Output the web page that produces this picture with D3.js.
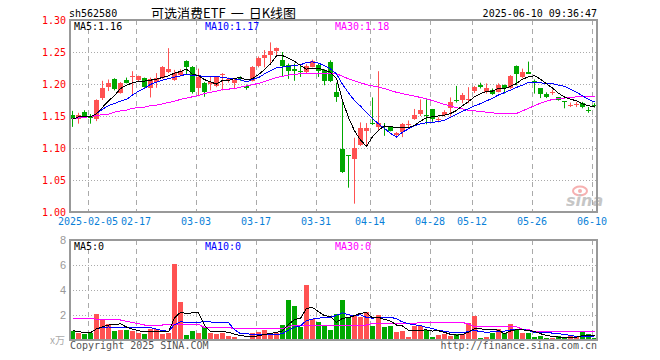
<!DOCTYPE html>
<html>
<head>
<meta charset="utf-8">
<script src="https://cdn.jsdelivr.net/npm/d3@7"></script>
<style>
  body { margin: 0; background: #fff; }
  text { font-family: "DejaVu Sans Mono", monospace; font-size: 10px; }
</style>
</head>
<body>
<svg id="chart" width="660" height="360"></svg>
<script>
// trading days shown on the chart
var dates = ['2025-01-23','2025-01-24','2025-01-27','2025-02-05','2025-02-06','2025-02-07','2025-02-10','2025-02-11','2025-02-12','2025-02-13',
  '2025-02-14','2025-02-17','2025-02-18','2025-02-19','2025-02-20','2025-02-21','2025-02-24','2025-02-25','2025-02-26','2025-02-27',
  '2025-02-28','2025-03-03','2025-03-04','2025-03-05','2025-03-06','2025-03-07','2025-03-10','2025-03-11','2025-03-12','2025-03-13',
  '2025-03-14','2025-03-17','2025-03-18','2025-03-19','2025-03-20','2025-03-21','2025-03-24','2025-03-25','2025-03-26','2025-03-27',
  '2025-03-28','2025-03-31','2025-04-01','2025-04-02','2025-04-03','2025-04-07','2025-04-08','2025-04-09','2025-04-10','2025-04-11',
  '2025-04-14','2025-04-15','2025-04-16','2025-04-17','2025-04-18','2025-04-21','2025-04-22','2025-04-23','2025-04-24','2025-04-25',
  '2025-04-28','2025-04-29','2025-04-30','2025-05-06','2025-05-07','2025-05-08','2025-05-09','2025-05-12','2025-05-13','2025-05-14',
  '2025-05-15','2025-05-16','2025-05-19','2025-05-20','2025-05-21','2025-05-22','2025-05-23','2025-05-26','2025-05-27','2025-05-28',
  '2025-05-29','2025-05-30','2025-06-03','2025-06-04','2025-06-05','2025-06-06','2025-06-09','2025-06-10'];

var open = [1.152,1.145,1.156,1.149,1.146,1.178,1.196,1.208,1.186,1.207,
  1.211,1.206,1.209,1.194,1.203,1.210,1.218,1.207,1.214,1.236,
  1.227,1.193,1.202,1.200,1.197,1.215,1.207,1.201,1.209,1.197,
  1.205,1.228,1.240,1.246,1.252,1.237,1.229,1.224,1.221,1.218,
  1.227,1.230,1.222,1.235,1.188,1.099,1.089,1.083,1.104,1.126,
  1.139,1.133,1.135,1.133,1.121,1.125,1.136,1.145,1.153,1.152,
  1.161,1.144,1.152,1.163,1.175,1.175,1.175,1.189,1.199,1.187,
  1.190,1.188,1.198,1.193,1.228,1.211,1.219,1.205,1.193,1.185,
  1.186,1.179,1.173,1.166,1.167,1.171,1.160,1.167];

var high = [1.158,1.155,1.159,1.153,1.176,1.205,1.207,1.209,1.203,1.210,
  1.220,1.213,1.210,1.210,1.217,1.228,1.256,1.222,1.223,1.237,
  1.228,1.224,1.203,1.212,1.212,1.217,1.210,1.208,1.212,1.199,
  1.228,1.243,1.253,1.265,1.257,1.250,1.232,1.232,1.228,1.231,
  1.238,1.232,1.223,1.237,1.202,1.173,1.089,1.116,1.140,1.139,
  1.179,1.220,1.139,1.134,1.125,1.139,1.143,1.161,1.176,1.176,
  1.161,1.148,1.159,1.179,1.197,1.186,1.195,1.197,1.202,1.201,
  1.193,1.201,1.199,1.214,1.229,1.224,1.235,1.207,1.193,1.187,
  1.191,1.179,1.173,1.171,1.172,1.172,1.164,1.170];

var low = [1.133,1.138,1.147,1.138,1.142,1.175,1.189,1.190,1.185,1.201,
  1.182,1.204,1.194,1.179,1.194,1.208,1.217,1.205,1.212,1.215,
  1.185,1.181,1.180,1.190,1.195,1.190,1.202,1.192,1.205,1.191,
  1.204,1.226,1.226,1.233,1.244,1.212,1.208,1.205,1.211,1.217,
  1.226,1.211,1.198,1.203,1.172,1.061,1.038,1.013,1.103,1.102,
  1.136,1.128,1.119,1.126,1.117,1.117,1.132,1.144,1.150,1.137,
  1.141,1.140,1.149,1.149,1.171,1.170,1.170,1.186,1.193,1.185,
  1.183,1.187,1.185,1.192,1.198,1.209,1.216,1.185,1.178,1.178,
  1.183,1.174,1.162,1.164,1.164,1.162,1.155,1.163];

var close = [1.145,1.152,1.150,1.147,1.175,1.194,1.202,1.192,1.201,1.202,
  1.212,1.212,1.196,1.208,1.209,1.227,1.224,1.217,1.221,1.227,
  1.188,1.211,1.187,1.203,1.211,1.216,1.208,1.207,1.208,1.193,
  1.226,1.240,1.246,1.252,1.256,1.228,1.220,1.221,1.219,1.228,
  1.236,1.220,1.204,1.204,1.180,1.062,1.088,1.100,1.132,1.131,
  1.137,1.139,1.133,1.127,1.123,1.138,1.138,1.151,1.160,1.150,
  1.145,1.145,1.157,1.172,1.174,1.183,1.176,1.195,1.196,1.193,
  1.185,1.198,1.193,1.212,1.216,1.219,1.216,1.202,1.184,1.180,
  1.187,1.175,1.172,1.167,1.168,1.164,1.159,1.165];

// volume, in units of the left axis
var volume = [0.75,0.59,0.48,0.53,2.08,1.60,1.28,0.72,0.80,0.80,
  0.75,0.59,0.48,0.85,0.85,0.48,0.59,6.08,3.07,0.40,
  0.72,0.59,1.07,0.59,0.48,0.59,0.35,0.27,0.11,0.11,
  0.53,0.67,0.80,0.48,0.53,1.20,3.20,2.72,1.07,4.40,
  1.65,1.47,1.12,0.80,2.08,3.20,1.73,1.92,1.81,2.24,
  1.12,2.00,1.07,1.12,0.67,0.75,0.27,1.12,1.12,0.80,
  0.27,0.40,0.48,0.32,0.48,0.48,1.39,1.92,0.19,0.27,
  0.59,0.88,0.59,1.28,0.80,0.53,0.59,0.27,0.32,0.13,
  0.13,0.32,0.13,0.32,0.27,0.67,0.48,0.13];

// 30 day averages (they reach back before the first bar)
var ma30 = [1.146,1.147,1.148,1.149,1.151,1.152,1.153,1.156,1.158,1.159,
  1.162,1.163,1.164,1.166,1.167,1.169,1.171,1.173,1.176,1.178,
  1.180,1.182,1.185,1.187,1.189,1.191,1.192,1.193,1.195,1.197,
  1.199,1.201,1.204,1.207,1.210,1.212,1.214,1.215,1.216,1.217,
  1.217,1.217,1.217,1.217,1.216,1.212,1.208,1.205,1.202,1.199,
  1.197,1.195,1.193,1.190,1.187,1.185,1.183,1.181,1.179,1.177,
  1.174,1.171,1.168,1.166,1.163,1.161,1.159,1.158,1.157,1.156,
  1.155,1.154,1.154,1.154,1.154,1.158,1.162,1.166,1.170,1.173,
  1.176,1.177,1.178,1.179,1.180,1.180,1.180,1.180];

var volMa30 = [1.73,1.73,1.73,1.73,1.66,1.66,1.66,1.66,1.60,1.50,
  1.40,1.30,1.20,1.20,1.20,1.20,1.25,1.25,1.25,1.25,
  1.25,1.25,1.00,1.00,1.00,1.00,1.00,0.92,0.92,0.92,
  0.92,0.92,0.92,0.92,0.92,0.92,1.05,1.20,1.20,1.20,
  1.20,1.20,1.20,1.20,1.20,1.20,1.20,1.20,1.20,1.20,
  1.33,1.33,1.33,1.33,1.33,1.33,1.33,1.33,1.40,1.40,
  1.40,1.40,1.40,1.40,1.40,1.40,1.28,1.07,1.07,1.07,
  1.07,1.07,1.07,1.07,1.07,0.85,0.85,0.67,0.67,0.67,
  0.67,0.67,0.67,0.67,0.67,0.67,0.67,0.67];

var tickDates = ['2025-02-05','2025-02-17','2025-03-03','2025-03-17','2025-03-31',
  '2025-04-14','2025-04-28','2025-05-12','2025-05-26','2025-06-10'];
var tickLabels = ['2025-02-05','02-17','03-03','03-17','03-31','04-14','04-28','05-12','05-26','06-10'];
var priceTicks = [1.00, 1.05, 1.10, 1.15, 1.20, 1.25, 1.30];
var volTicks = [2, 4, 6, 8];

var UP = '#ff5252', DOWN = '#00a800';
var GRID = '#aaaaaa', FRAME = '#999999';

function movingAvg(arr, n) {
  return arr.map(function(v, i) {
    return d3.mean(arr.slice(Math.max(0, i - n + 1), i + 1));
  });
}

var ma5 = movingAvg(close, 5);
var ma10 = movingAvg(close, 10);
var volMa5 = movingAvg(volume, 5);
var volMa10 = movingAvg(volume, 10);

var svg = d3.select('#chart');
var left = 70, right = 597;

var x = d3.scaleBand().domain(dates).range([left, left + 6 * dates.length]);
var y = d3.scaleLinear().domain([1.0, 1.3]).range([212, 20]);
var yv = d3.scaleLinear().domain([0, 8]).range([340, 240]);

function cx(i) { return x(dates[i]) + 2.5; }
function isUp(i) { return close[i] >= open[i]; }

// ---- header
svg.append('text').attr('x', 69).attr('y', 17).text('sh562580');
var title = svg.append('text').attr('x', 151).attr('y', 18)
  .style('font-family', '"Noto Sans CJK SC", sans-serif').style('font-size', '13px');
title.append('tspan').text('可选消费ETF');
title.append('tspan').attr('dx', 5).text('一');
title.append('tspan').attr('dx', 5).text('日K线图');
svg.append('text').attr('x', right).attr('y', 17).attr('text-anchor', 'end')
  .text('2025-06-10 09:36:47');

function panel(top, bottom, hTicks, yScale) {
  var g = svg.append('g');
  g.selectAll('.hg').data(hTicks).enter().append('line')
    .attr('x1', left).attr('x2', right)
    .attr('y1', function(d) { return Math.round(yScale(d)) + 0.5; })
    .attr('y2', function(d) { return Math.round(yScale(d)) + 0.5; })
    .attr('stroke', GRID).attr('stroke-dasharray', '1,2');
  g.selectAll('.vg').data(tickDates).enter().append('line')
    .attr('x1', function(d) { return x(d) + 0.5; })
    .attr('x2', function(d) { return x(d) + 0.5; })
    .attr('y1', top).attr('y2', bottom)
    .attr('stroke', GRID).attr('stroke-dasharray', '5,4');
  return g;
}

// ---- price panel
panel(20, 212, [1.05, 1.10, 1.15, 1.20, 1.25], y);

// sina watermark
var logo = svg.append('g').attr('opacity', 0.55);
logo.append('ellipse').attr('cx', 580).attr('cy', 191).attr('rx', 7).attr('ry', 4.5)
  .attr('fill', 'none').attr('stroke', '#f07070').attr('stroke-width', 2);
logo.append('circle').attr('cx', 580).attr('cy', 191).attr('r', 2).attr('fill', '#f07070');
logo.append('text').attr('x', 566).attr('y', 206)
  .style('font-family', '"DejaVu Sans", sans-serif').style('font-size', '16px')
  .style('font-style', 'italic').style('font-weight', 'bold')
  .attr('fill', '#999').text('sina');

var candles = svg.append('g').selectAll('g').data(dates).enter().append('g');
candles.append('line')
  .attr('x1', function(d, i) { return cx(i); })
  .attr('x2', function(d, i) { return cx(i); })
  .attr('y1', function(d, i) { return y(high[i]); })
  .attr('y2', function(d, i) { return y(low[i]); })
  .attr('stroke', function(d, i) { return isUp(i) ? UP : DOWN; });
candles.append('rect')
  .attr('x', function(d) { return x(d); })
  .attr('width', 5)
  .attr('y', function(d, i) { return y(Math.max(open[i], close[i])); })
  .attr('height', function(d, i) { return Math.max(1, y(Math.min(open[i], close[i])) - y(Math.max(open[i], close[i]))); })
  .attr('fill', function(d, i) { return isUp(i) ? UP : DOWN; })
  .attr('shape-rendering', 'crispEdges');

var priceLine = d3.line().x(function(d, i) { return cx(i); }).y(function(d) { return y(d); });
[[ma30, '#ff00ff'], [ma10, '#0000ff'], [ma5, '#000000']].forEach(function(s) {
  svg.append('path').datum(s[0]).attr('d', priceLine)
    .attr('fill', 'none').attr('stroke', s[1]).attr('stroke-width', 1)
    .attr('shape-rendering', 'crispEdges');
});

svg.append('rect').attr('x', left).attr('y', 20).attr('width', right - left).attr('height', 192)
  .attr('fill', 'none').attr('stroke', FRAME).attr('stroke-width', 2);

var fmt = d3.format('.2f');
svg.append('text').attr('x', 74).attr('y', 30).text('MA5:' + fmt(ma5[ma5.length - 1]));
svg.append('text').attr('x', 205).attr('y', 30).attr('fill', '#0000ff').text('MA10:' + fmt(ma10[ma10.length - 1]));
svg.append('text').attr('x', 335).attr('y', 30).attr('fill', '#ff00ff').text('MA30:' + fmt(ma30[ma30.length - 1]));

var yAxis = svg.append('g').attr('transform', 'translate(' + left + ',0)')
  .call(d3.axisLeft(y).tickValues(priceTicks).tickFormat(fmt).tickSize(0).tickPadding(4));
yAxis.select('.domain').remove();
yAxis.selectAll('text').attr('fill', '#ff0000')
  .style('font-family', '"DejaVu Sans Mono", monospace').style('font-size', '10px');

var xAxis = svg.append('g').attr('transform', 'translate(-3,212)')
  .call(d3.axisBottom(x).tickValues(tickDates)
    .tickFormat(function(d, i) { return tickLabels[i]; }).tickSize(0).tickPadding(6));
xAxis.select('.domain').remove();
xAxis.selectAll('text').attr('fill', '#0a7fd8')
  .style('font-family', '"DejaVu Sans Mono", monospace').style('font-size', '10px');

// ---- volume panel
panel(240, 340, [2, 4, 6], yv);

svg.append('g').selectAll('rect').data(dates).enter().append('rect')
  .attr('x', function(d) { return x(d); })
  .attr('width', 5)
  .attr('y', function(d, i) { return yv(volume[i]); })
  .attr('height', function(d, i) { return 340 - yv(volume[i]); })
  .attr('fill', function(d, i) { return isUp(i) ? UP : DOWN; })
  .attr('shape-rendering', 'crispEdges');

var volLine = d3.line().x(function(d, i) { return cx(i); }).y(function(d) { return yv(d); });
[[volMa30, '#ff00ff'], [volMa10, '#0000ff'], [volMa5, '#000000']].forEach(function(s) {
  svg.append('path').datum(s[0]).attr('d', volLine)
    .attr('fill', 'none').attr('stroke', s[1]).attr('stroke-width', 1)
    .attr('shape-rendering', 'crispEdges');
});

svg.append('rect').attr('x', left).attr('y', 240).attr('width', right - left).attr('height', 100)
  .attr('fill', 'none').attr('stroke', FRAME).attr('stroke-width', 2);

svg.append('text').attr('x', 74).attr('y', 249.5).text('MA5:0');
svg.append('text').attr('x', 205).attr('y', 249.5).attr('fill', '#0000ff').text('MA10:0');
svg.append('text').attr('x', 335).attr('y', 249.5).attr('fill', '#ff00ff').text('MA30:0');

var vAxis = svg.append('g').attr('transform', 'translate(' + left + ',0)')
  .call(d3.axisLeft(yv).tickValues(volTicks).tickSize(0).tickPadding(4));
vAxis.select('.domain').remove();
vAxis.selectAll('text').attr('fill', '#999')
  .style('font-family', '"Liberation Sans", sans-serif').style('font-size', '11px');

svg.append('text').attr('x', 65).attr('y', 344).attr('text-anchor', 'end').attr('fill', '#aaa')
  .style('font-family', '"Noto Sans CJK SC", sans-serif').style('font-size', '10px').text('x万');

svg.append('text').attr('x', 70).attr('y', 349).attr('fill', '#555').text('Copyright 2025 SINA.COM');
svg.append('text').attr('x', right).attr('y', 349).attr('text-anchor', 'end').attr('fill', '#555')
  .text('http://finance.sina.com.cn');
</script>
</body>
</html>
